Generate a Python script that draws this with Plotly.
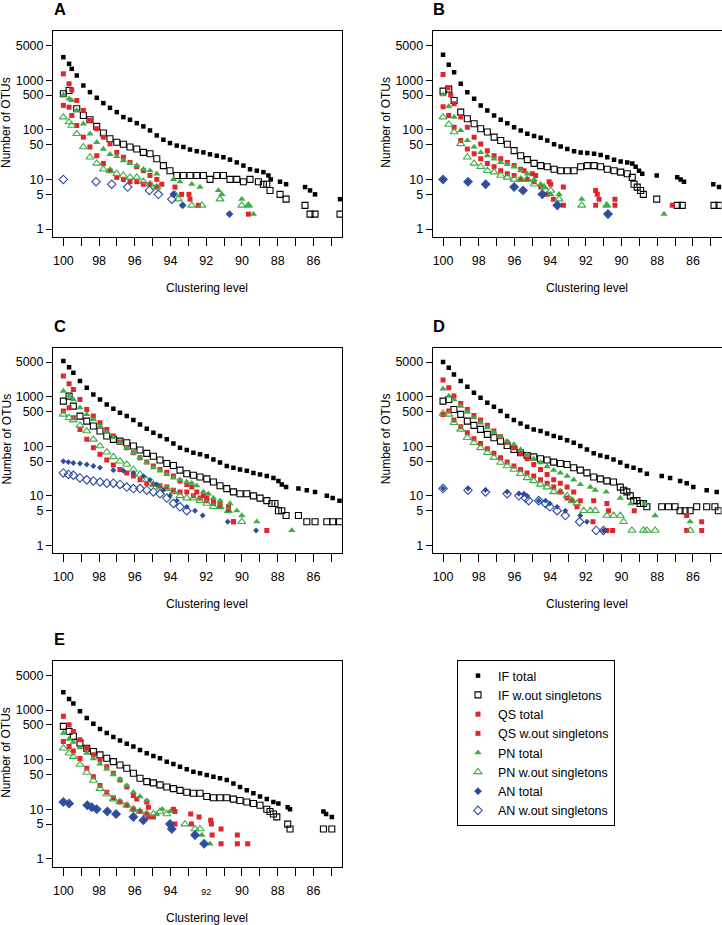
import plotly.graph_objects as go

W, H = 722, 925

series_names = ["IF total", "IF w.out singletons", "QS total", "QS w.out singletons",
                "PN total", "PN w.out singletons", "AN total", "AN w.out singletons"]
panel_labels = ["A", "B", "C", "D", "E"]
y_tick_values = [1, 5, 10, 50, 100, 500, 1000, 5000]
y_tick_labels = ["1", "5", "10", "50", "100", "500", "1000", "5000"]
x_tick_values = list(range(85, 101))
x_tick_labels = ["", "86", "", "88", "", "90", "", "92", "", "94", "", "96", "", "98", "", "100"]
x_tick_labels_E = ["", "86", "", "88", "", "90", "", "<span style='font-size:9px'>92</span>", "", "94", "", "96", "", "98", "", "100"]

# ---------------- Panel A ----------------
A_IF_tot_x = [100, 99.68, 99.53, 99.25, 98.88, 98.51, 98.13, 97.76, 97.39, 97.01, 96.64, 96.27, 95.89, 95.52, 95.15, 94.77, 94.40, 94.03, 93.65, 93.28, 92.91, 92.53, 92.16, 91.79, 91.41, 91.04, 90.67, 90.29, 89.92, 89.55, 89.17, 88.80, 88.52, 88.39, 87.87, 87.53, 86.47, 86.19, 85.91, 84.51]
A_IF_tot_y = [2900, 2130, 1690, 1240, 780, 573, 441, 344, 277, 227, 180, 159, 136, 117, 97, 77, 63, 54, 48, 45, 40, 37, 35, 32, 30, 28, 25, 22, 19, 16, 15, 14, 12, 10, 9, 8, 7, 6, 5, 4]
A_IF_wo_x = [100, 99.68, 99.25, 98.88, 98.51, 98.13, 97.76, 97.39, 97.01, 96.64, 96.27, 95.89, 95.52, 95.15, 94.77, 94.40, 94.03, 93.65, 93.28, 92.91, 92.53, 92.16, 91.79, 91.41, 91.04, 90.67, 90.29, 89.92, 89.55, 89.08, 88.80, 88.61, 88.43, 87.87, 87.53, 86.47, 86.19, 85.91, 84.51]
A_IF_wo_y = [531, 620, 265, 194, 159, 117, 86, 66, 56, 51, 45, 41, 35, 33, 26, 19, 15, 12, 12, 12, 12, 12, 10, 12, 12, 10, 10, 9, 10, 9, 8, 8, 6, 5, 4, 3, 2, 2, 2]
A_QS_tot_x = [100, 99.68, 99.53, 99.25, 98.88, 98.51, 98.13, 97.76, 97.39, 97.01, 96.64, 96.27, 95.89, 95.52, 95.15, 94.77, 94.49, 93.75, 93.38, 92.97, 92.91, 92.44, 89.64]
A_QS_tot_y = [1340, 845, 640, 390, 245, 154, 105, 71, 52, 35, 28, 22, 18, 15, 12, 10, 8, 7, 5, 5, 4, 3, 2]
A_QS_wo_x = [100, 99.68, 99.53, 99.25, 98.88, 98.51, 98.13, 97.76, 97.39, 97.01, 96.64, 96.27, 95.89, 95.52, 95.15, 94.77]
A_QS_wo_y = [310, 285, 194, 122, 71, 45, 30, 21, 15, 11, 10, 9, 9, 8, 8, 7]
A_PN_tot_x = [100, 99.68, 99.53, 99.25, 98.88, 98.51, 98.13, 97.76, 97.39, 97.01, 96.64, 96.27, 95.89, 95.52, 95.15, 94.77, 93.84, 93.47, 92.81, 92.35, 91.32, 91.13, 90.01, 89.64, 89.36]
A_PN_tot_y = [507, 421, 390, 245, 132, 83, 56, 41, 32, 29, 24, 21, 19, 16, 15, 13, 10, 9, 8, 7, 6, 5, 4, 3, 2]
A_PN_wo_x = [100, 99.68, 99.53, 99.25, 98.88, 98.51, 98.13, 97.76, 97.39, 97.01, 96.64, 96.27, 95.89, 95.52, 95.15, 94.77, 93.75, 93.56, 92.81, 92.25, 91.23, 90.01, 89.64]
A_PN_wo_y = [180, 143, 122, 83, 45, 28, 21, 16, 15, 13, 12, 11, 11, 9, 8, 7, 5, 4, 3, 3, 4, 3, 3]
A_AN_tot_x = [93.84, 93.32, 90.70]
A_AN_tot_y = [5, 3, 2]
A_AN_wo_x = [100, 98.17, 97.29, 96.40, 95.18, 94.68, 93.93]
A_AN_wo_y = [10, 9, 8, 7, 6, 5, 4]

# ---------------- Panel B ----------------
B_IF_tot_x = [100, 99.68, 99.38, 99.01, 98.64, 98.26, 97.89, 97.52, 97.14, 96.77, 96.40, 96.02, 95.65, 95.28, 94.90, 94.53, 94.16, 93.78, 93.41, 93.04, 92.66, 92.29, 91.92, 91.54, 91.17, 90.80, 90.42, 90.05, 89.68, 89.40, 89.21, 89.02, 88.84, 88.03, 86.88, 86.69, 86.50, 84.86, 84.54]
B_IF_tot_y = [3240, 2040, 1450, 845, 573, 421, 310, 245, 194, 159, 136, 113, 97, 83, 75, 69, 61, 51, 46, 41, 37, 35, 34, 33, 31, 28, 25, 23, 22, 21, 18, 15, 13, 12, 11, 10, 9, 8, 7]
B_IF_wo_x = [100, 99.68, 99.38, 99.01, 98.64, 98.26, 97.89, 97.52, 97.14, 96.77, 96.40, 96.02, 95.65, 95.28, 94.90, 94.53, 94.16, 93.78, 93.41, 93.04, 92.66, 92.29, 91.92, 91.54, 91.17, 90.80, 90.42, 90.05, 89.68, 89.40, 89.30, 89.12, 88.93, 88.78, 88.03, 86.88, 86.60, 84.82, 84.54]
B_IF_wo_y = [600, 660, 390, 227, 167, 132, 105, 90, 71, 61, 51, 38, 30, 25, 21, 19, 18, 16, 15, 15, 15, 18, 19, 19, 18, 16, 15, 14, 13, 11, 8, 7, 6, 5, 4, 3, 3, 3, 3]
B_QS_tot_x = [100, 99.72, 99.57, 99.38, 99.01, 98.64, 98.26, 97.89, 97.52, 97.14, 96.77, 96.40, 96.02, 95.65, 95.46, 95.00, 94.81, 94.06, 93.97, 93.26, 91.45, 91.36, 91.26, 90.37, 87.16]
B_QS_tot_y = [1300, 700, 500, 333, 180, 113, 71, 52, 38, 30, 26, 22, 19, 16, 15, 13, 12, 9, 8, 7, 6, 5, 4, 4, 3]
B_QS_wo_x = [100, 99.68, 99.38, 99.01, 98.64, 98.26, 97.89, 97.52, 97.14, 96.77, 96.40, 96.02, 95.65, 95.28, 94.90, 94.53, 94.16, 93.82, 93.26, 91.45, 90.37]
B_QS_wo_y = [290, 194, 113, 61, 41, 33, 26, 21, 18, 15, 13, 12, 10, 10, 9, 7, 5, 4, 3, 3, 3]
B_PN_tot_x = [100, 99.68, 99.38, 99.01, 98.64, 98.26, 97.89, 97.52, 97.14, 96.77, 96.40, 96.02, 95.65, 95.28, 94.90, 94.53, 94.34, 93.97, 93.50, 92.23, 90.83, 87.62]
B_PN_tot_y = [510, 295, 180, 97, 61, 45, 35, 30, 26, 22, 20, 18, 15, 13, 10, 8, 7, 5, 5, 4, 3, 2]
B_PN_wo_x = [100, 99.68, 99.38, 99.01, 98.64, 98.26, 97.89, 97.52, 97.14, 96.77, 96.40, 96.02, 95.65, 95.28, 94.90, 94.34, 93.97, 93.50, 92.23, 90.83]
B_PN_wo_y = [180, 128, 90, 52, 28, 21, 18, 15, 14, 12, 11, 10, 10, 10, 8, 7, 6, 4, 3, 3]
B_AN_tot_x = [100, 98.60, 97.61, 96.02, 95.52, 94.44, 93.60, 90.76]
B_AN_tot_y = [10, 9, 8, 7, 6, 5, 3, 2]
B_AN_wo_x = [100, 98.60, 97.61, 96.02, 95.52, 94.44, 93.60, 90.76]
B_AN_wo_y = [10, 9, 8, 7, 6, 5, 3, 2]

# ---------------- Panel C ----------------
C_IF_tot_x = [100, 99.68, 99.44, 99.07, 98.69, 98.32, 97.95, 97.57, 97.20, 96.83, 96.45, 96.08, 95.71, 95.33, 94.96, 94.59, 94.21, 93.84, 93.47, 93.09, 92.72, 92.35, 91.97, 91.60, 91.23, 90.85, 90.48, 90.11, 89.73, 89.36, 88.99, 88.61, 88.24, 87.96, 87.77, 87.53, 86.84, 86.37, 85.91, 85.25, 84.92, 84.54]
C_IF_tot_y = [5240, 3960, 3050, 2070, 1520, 1110, 880, 700, 572, 475, 407, 338, 276, 226, 188, 161, 138, 114, 93, 84, 74, 69, 63, 54, 47, 40, 37, 34, 32, 29, 27, 25, 23, 20, 17, 15, 14, 13, 12, 10, 9, 8]
C_IF_wo_x = [100, 99.68, 99.44, 99.07, 98.69, 98.32, 97.95, 97.57, 97.20, 96.83, 96.45, 96.08, 95.71, 95.33, 94.96, 94.59, 94.21, 93.84, 93.47, 93.09, 92.72, 92.35, 91.97, 91.60, 91.23, 90.85, 90.48, 90.11, 89.73, 89.36, 88.99, 88.61, 88.33, 88.15, 87.96, 87.77, 87.53, 86.84, 86.37, 85.91, 85.25, 84.92, 84.54]
C_IF_wo_y = [816, 1030, 647, 407, 322, 256, 203, 161, 138, 127, 118, 101, 84, 72, 63, 53, 45, 41, 33, 28, 26, 24, 22, 19, 16, 14, 12, 11, 11, 10, 9, 8, 7, 7, 5, 5, 4, 4, 3, 3, 3, 3, 3]
C_QS_tot_x = [100, 99.68, 99.44, 99.07, 98.69, 98.32, 97.95, 97.57, 97.20, 96.83, 96.45, 96.08, 95.71, 95.33, 94.96, 94.59, 94.21, 93.84, 93.47, 93.09, 92.81, 92.53, 92.16, 91.97, 91.60, 91.23, 90.76, 90.48, 88.61]
C_QS_tot_y = [2610, 1830, 1400, 880, 554, 407, 298, 219, 161, 122, 93, 74, 59, 48, 40, 34, 30, 25, 20, 17, 15, 12, 10, 9, 8, 7, 6, 3, 2]
C_QS_wo_x = [100, 99.68, 99.44, 99.07, 98.69, 98.32, 97.95, 97.57, 97.20, 96.83, 96.45, 96.08, 95.71, 95.33, 94.96, 94.59, 94.21, 93.84, 93.47, 93.09, 92.72, 92.35, 91.97, 91.60, 91.23, 90.76, 90.48]
C_QS_wo_y = [513, 600, 377, 219, 138, 93, 69, 53, 42, 34, 29, 25, 21, 18, 17, 16, 15, 13, 12, 12, 10, 9, 8, 7, 6, 5, 3]
C_PN_tot_x = [100, 99.68, 99.44, 99.07, 98.69, 98.32, 97.95, 97.57, 97.20, 96.83, 96.45, 96.08, 95.71, 95.33, 94.96, 94.59, 94.21, 93.84, 93.47, 93.09, 92.81, 92.53, 92.16, 91.88, 91.60, 91.23, 90.67, 90.29, 90.01, 89.17, 87.21]
C_PN_tot_y = [1300, 1030, 880, 600, 440, 348, 256, 193, 149, 118, 93, 74, 59, 47, 37, 32, 27, 23, 21, 19, 18, 16, 12, 11, 9, 8, 7, 5, 4, 3, 2]
C_PN_wo_x = [100, 99.68, 99.44, 99.07, 98.69, 98.32, 97.95, 97.57, 97.20, 96.83, 96.45, 96.08, 95.71, 95.33, 94.96, 94.59, 94.21, 93.84, 93.47, 93.09, 92.72, 92.35, 91.97, 91.60, 91.23, 90.76, 90.01]
C_PN_wo_y = [440, 377, 338, 264, 203, 138, 101, 76, 61, 50, 43, 34, 27, 21, 17, 15, 14, 12, 10, 9, 9, 8, 7, 6, 6, 5, 3]
C_AN_tot_x = [100, 99.72, 99.44, 99.07, 98.69, 98.32, 97.95, 97.20, 96.64, 96.08, 95.52, 95.15, 94.77, 94.40, 94.03, 93.65, 93.09, 92.63, 92.20, 90.80, 89.21]
C_AN_tot_y = [50, 48, 46, 45, 43, 40, 37, 33, 32, 29, 25, 21, 17, 13, 10, 8, 6, 5, 4, 3, 2]
C_AN_wo_x = [100, 99.72, 99.44, 99.07, 98.69, 98.32, 97.95, 97.57, 97.20, 96.83, 96.45, 96.08, 95.71, 95.33, 94.96, 94.59, 94.21, 93.84, 93.47, 93.09]
C_AN_wo_y = [29, 27, 26, 23, 21, 20, 19, 18, 18, 17, 15, 14, 14, 13, 12, 11, 9, 7, 6, 5]

# ---------------- Panel D ----------------
D_IF_tot_x = [100, 99.68, 99.39, 99.01, 98.64, 98.27, 97.90, 97.52, 97.15, 96.78, 96.41, 96.03, 95.66, 95.29, 94.92, 94.54, 94.17, 93.80, 93.43, 93.05, 92.68, 92.31, 91.94, 91.56, 91.19, 90.82, 90.45, 90.07, 89.70, 89.33, 88.96, 88.58, 87.75, 87.28, 86.72, 86.35, 85.98, 85.23, 84.67]
D_IF_tot_y = [5000, 3840, 2820, 2070, 1590, 1200, 953, 756, 628, 513, 407, 338, 289, 248, 219, 203, 182, 161, 149, 133, 118, 101, 86, 72, 65, 61, 54, 47, 40, 37, 33, 28, 25, 23, 20, 18, 15, 13, 12]
D_IF_wo_x = [100, 99.68, 99.39, 99.01, 98.64, 98.27, 97.90, 97.52, 97.15, 96.78, 96.41, 96.03, 95.66, 95.29, 94.92, 94.54, 94.17, 93.80, 93.43, 93.05, 92.68, 92.31, 91.94, 91.56, 91.19, 90.82, 90.45, 90.07, 89.88, 89.70, 89.51, 89.33, 89.14, 88.96, 88.77, 88.58, 87.75, 87.37, 87.00, 86.72, 86.44, 86.16, 85.79, 85.23, 84.77, 84.58]
D_IF_wo_y = [816, 880, 554, 440, 322, 264, 219, 174, 149, 127, 104, 86, 74, 65, 61, 56, 53, 48, 45, 43, 37, 33, 29, 24, 22, 20, 19, 15, 13, 12, 10, 8, 8, 7, 7, 6, 6, 6, 6, 5, 5, 5, 6, 6, 6, 5]
D_QS_tot_x = [100, 99.68, 99.39, 99.01, 98.64, 98.27, 97.90, 97.52, 97.15, 96.78, 96.41, 96.03, 95.66, 95.29, 94.92, 94.54, 94.17, 93.80, 93.43, 93.05, 92.68, 92.31, 91.56, 90.82, 90.73, 91.60, 89.29, 86.35, 85.51]
D_QS_tot_y = [2170, 1520, 1030, 730, 554, 420, 338, 265, 203, 156, 121, 93, 72, 56, 43, 34, 27, 21, 18, 15, 12, 8, 8, 7, 5, 3, 5, 4, 3]
D_QS_wo_x = [100, 99.68, 99.39, 99.01, 98.64, 98.27, 97.90, 97.52, 97.15, 96.78, 96.41, 96.03, 95.66, 95.29, 94.92, 94.54, 94.17, 93.80, 93.43, 93.05, 92.77, 92.50, 90.82, 90.50, 86.35, 85.51]
D_QS_wo_y = [440, 513, 338, 248, 188, 142, 114, 89, 72, 59, 48, 40, 34, 29, 25, 21, 18, 15, 12, 9, 8, 6, 2, 2, 2, 2]
D_PN_tot_x = [100, 99.68, 99.39, 99.01, 98.64, 98.27, 97.90, 97.52, 97.15, 96.78, 96.41, 96.03, 95.66, 95.29, 94.92, 94.54, 94.17, 93.80, 93.43, 93.05, 92.68, 92.31, 91.75, 91.47, 90.86, 90.07, 89.48, 88.68, 88.12, 86.16]
D_PN_tot_y = [1450, 1030, 880, 647, 490, 377, 298, 237, 193, 156, 127, 109, 86, 69, 56, 47, 39, 33, 29, 25, 21, 17, 15, 13, 12, 9, 7, 7, 4, 3]
D_PN_wo_x = [100, 99.68, 99.39, 99.01, 98.64, 98.27, 97.90, 97.52, 97.15, 96.78, 96.41, 96.03, 95.66, 95.29, 94.92, 94.54, 94.17, 93.80, 93.43, 93.05, 92.77, 92.50, 92.12, 91.75, 91.47, 90.82, 90.45, 90.07, 89.89, 89.42, 88.77, 88.58, 88.12, 86.16]
D_PN_wo_y = [459, 440, 298, 219, 149, 118, 93, 74, 59, 47, 40, 34, 28, 23, 20, 17, 15, 12, 12, 10, 8, 7, 5, 5, 5, 4, 4, 4, 3, 2, 2, 2, 2, 2]
D_AN_tot_x = [100, 98.60, 97.62, 96.41, 95.75, 95.47, 95.29, 94.64, 94.26, 94.02, 93.61, 93.15, 92.31, 91.94, 91.01]
D_AN_tot_y = [14, 14, 13, 12, 11, 11, 10, 8, 8, 7, 6, 5, 4, 3, 2]
D_AN_wo_x = [100, 98.60, 97.62, 96.41, 95.75, 95.38, 95.20, 94.64, 94.26, 94.02, 93.61, 93.15, 92.35, 91.42, 91.01]
D_AN_wo_y = [14, 13, 12, 11, 10, 9, 8, 8, 7, 6, 5, 4, 3, 2, 2]

# ---------------- Panel E ----------------
E_IF_tot_x = [100, 99.68, 99.44, 99.07, 98.69, 98.32, 97.95, 97.57, 97.20, 96.83, 96.45, 96.08, 95.71, 95.33, 94.96, 94.59, 94.21, 93.84, 93.47, 93.09, 92.72, 92.35, 91.97, 91.60, 91.23, 90.85, 90.48, 90.11, 89.73, 89.36, 88.99, 88.61, 88.24, 87.96, 87.44, 87.31, 85.44, 85.29, 84.97]
E_IF_tot_y = [2290, 1680, 1350, 944, 692, 531, 414, 343, 285, 244, 208, 184, 157, 135, 119, 107, 91, 82, 72, 64, 57, 53, 49, 45, 42, 39, 33, 28, 24, 21, 18, 16, 14, 13, 11, 10, 9, 8, 7]
E_IF_wo_x = [100, 99.68, 99.44, 99.07, 98.69, 98.32, 97.95, 97.57, 97.20, 96.83, 96.45, 96.08, 95.71, 95.33, 94.96, 94.59, 94.21, 93.84, 93.47, 93.09, 92.72, 92.35, 91.97, 91.60, 91.23, 90.85, 90.48, 90.11, 89.73, 89.36, 88.99, 88.61, 88.43, 88.24, 88.05, 87.44, 87.31, 85.44, 84.97]
E_IF_wo_y = [469, 371, 294, 215, 170, 146, 125, 107, 91, 78, 67, 53, 42, 36, 34, 31, 28, 26, 24, 22, 21, 21, 18, 17, 17, 17, 16, 15, 14, 13, 12, 10, 9, 8, 7, 5, 4, 4, 4]
E_QS_tot_x = [100, 99.68, 99.44, 99.07, 98.69, 98.32, 97.95, 97.57, 97.20, 96.83, 96.45, 96.08, 95.89, 95.33, 95.24, 95.24, 93.84, 93.75, 93.75, 92.87, 92.83, 92.40, 91.75, 91.71, 91.67, 91.17, 91.17, 90.26, 90.26, 89.68]
E_QS_tot_y = [748, 507, 371, 251, 170, 125, 99, 72, 53, 39, 28, 19, 16, 14, 11, 7, 10, 9, 5, 8, 5, 7, 6, 5, 3, 4, 2, 3, 2, 2]
E_QS_wo_x = [100, 99.68, 99.44, 99.07, 98.69, 98.32, 97.95, 97.57, 97.20, 96.83, 96.45, 96.08, 95.71, 95.33, 94.96]
E_QS_wo_y = [232, 184, 150, 105, 67, 45, 30, 22, 17, 14, 12, 10, 9, 8, 7]
E_PN_tot_x = [100, 99.68, 99.44, 99.07, 98.69, 98.32, 97.95, 97.57, 97.20, 96.83, 96.45, 96.08, 95.71, 95.33, 94.77, 94.46, 94.03, 92.25, 91.79]
E_PN_tot_y = [343, 260, 225, 175, 135, 105, 82, 64, 50, 40, 30, 22, 18, 15, 8, 10, 9, 3, 2]
E_PN_wo_x = [100, 99.68, 99.44, 99.07, 98.69, 98.32, 97.95, 97.57, 97.20, 96.83, 96.45, 96.08, 95.71, 95.33, 94.96, 94.59, 94.21, 93.19, 92.63, 92.35]
E_PN_wo_y = [170, 135, 115, 80, 55, 38, 26, 20, 16, 14, 12, 10, 9, 8, 8, 9, 8, 5, 4, 4]
E_AN_tot_x = [100, 99.68, 98.66, 98.41, 98.13, 97.54, 97.05, 96.08, 95.52, 94.03, 93.93, 92.63, 92.12]
E_AN_tot_y = [14, 13, 12, 11, 10, 9, 8, 7, 6, 5, 4, 3, 2]
E_AN_wo_x = [100, 99.68, 98.66, 98.41, 98.13, 97.54, 97.05, 96.08, 95.52, 94.03, 93.93, 92.63, 92.12]
E_AN_wo_y = [14, 13, 12, 11, 10, 9, 8, 7, 6, 5, 4, 3, 2]

panel_series = {
    "A": [(A_IF_tot_x, A_IF_tot_y), (A_IF_wo_x, A_IF_wo_y), (A_QS_tot_x, A_QS_tot_y), (A_QS_wo_x, A_QS_wo_y),
          (A_PN_tot_x, A_PN_tot_y), (A_PN_wo_x, A_PN_wo_y), (A_AN_tot_x, A_AN_tot_y), (A_AN_wo_x, A_AN_wo_y)],
    "B": [(B_IF_tot_x, B_IF_tot_y), (B_IF_wo_x, B_IF_wo_y), (B_QS_tot_x, B_QS_tot_y), (B_QS_wo_x, B_QS_wo_y),
          (B_PN_tot_x, B_PN_tot_y), (B_PN_wo_x, B_PN_wo_y), (B_AN_tot_x, B_AN_tot_y), (B_AN_wo_x, B_AN_wo_y)],
    "C": [(C_IF_tot_x, C_IF_tot_y), (C_IF_wo_x, C_IF_wo_y), (C_QS_tot_x, C_QS_tot_y), (C_QS_wo_x, C_QS_wo_y),
          (C_PN_tot_x, C_PN_tot_y), (C_PN_wo_x, C_PN_wo_y), (C_AN_tot_x, C_AN_tot_y), (C_AN_wo_x, C_AN_wo_y)],
    "D": [(D_IF_tot_x, D_IF_tot_y), (D_IF_wo_x, D_IF_wo_y), (D_QS_tot_x, D_QS_tot_y), (D_QS_wo_x, D_QS_wo_y),
          (D_PN_tot_x, D_PN_tot_y), (D_PN_wo_x, D_PN_wo_y), (D_AN_tot_x, D_AN_tot_y), (D_AN_wo_x, D_AN_wo_y)],
    "E": [(E_IF_tot_x, E_IF_tot_y), (E_IF_wo_x, E_IF_wo_y), (E_QS_tot_x, E_QS_tot_y), (E_QS_wo_x, E_QS_wo_y),
          (E_PN_tot_x, E_PN_tot_y), (E_PN_wo_x, E_PN_wo_y), (E_AN_tot_x, E_AN_tot_y), (E_AN_wo_x, E_AN_wo_y)],
}

RED = "#e4232a"
GREEN = "#3cae48"
BLUE = "#2d4c9f"
FONT = "Liberation Sans, Arial, sans-serif"


def marker_style(i, panel):
    if i == 0:
        return dict(symbol="square", size=4.5, color="black")
    if i == 1:
        return dict(symbol="square-open", size=6, color="black", line=dict(width=1.1, color="black"))
    if i in (2, 3):
        return dict(symbol="square", size=5, color=RED)
    if i == 4:
        return dict(symbol="triangle-up", size=6.5, color=GREEN)
    if i == 5:
        return dict(symbol="triangle-up-open", size=7, color=GREEN, line=dict(width=1.1, color=GREEN))
    if i == 6:
        return dict(symbol="diamond", size=(4.5 if panel in ("C", "D") else 6), color=BLUE)
    return dict(symbol="diamond-open", size=6.5, color=BLUE, line=dict(width=1.1, color=BLUE))


# pixel geometry of plot boxes
col_x = [(53, 342), (432.7, 721.5)]
row_y = [(31, 237), (347.7, 553.3), (661, 866.7)]
panel_pos = {"A": (0, 0), "B": (1, 0), "C": (0, 1), "D": (1, 1), "E": (0, 2)}

fig = go.Figure()
layout = dict(
    template="none",
    width=W, height=H, margin=dict(l=0, r=0, t=0, b=0, pad=0, autoexpand=False),
    paper_bgcolor="white", plot_bgcolor="white",
    font=dict(family=FONT, size=12.5, color="black"),
)
annotations = []

for k, p in enumerate(panel_labels):
    idx = "" if k == 0 else str(k + 1)
    c, r = panel_pos[p]
    x0, x1 = col_x[c]
    y0, y1 = row_y[r]
    for i, (xs, ys) in enumerate(panel_series[p]):
        fig.add_trace(go.Scatter(
            x=xs, y=ys, mode="markers", name=series_names[i],
            marker=marker_style(i, p), legendgroup=series_names[i],
            showlegend=(p == "A"), xaxis="x" + idx, yaxis="y" + idx,
            hoverinfo="x+y+name",
        ))
    layout["xaxis" + idx] = dict(
        domain=[x0 / W, x1 / W], anchor="y" + idx, automargin=False,
        range=[100.58, 84.40], tickmode="array", tickvals=x_tick_values,
        ticktext=(x_tick_labels_E if p == "E" else x_tick_labels),
        ticks="outside", ticklen=8, tickwidth=1, tickcolor="black",
        showline=True, mirror=True, linecolor="black", linewidth=1,
        showgrid=False, zeroline=False, tickfont=dict(size=12.5),
        ticklabelstandoff=4,
    )
    layout["yaxis" + idx] = dict(
        domain=[1 - y1 / H, 1 - y0 / H], anchor="x" + idx, type="log", automargin=False,
        range=[-0.16, 3.99], tickmode="array", tickvals=y_tick_values, ticktext=y_tick_labels,
        ticks="outside", ticklen=6, tickwidth=1, tickcolor="black",
        showline=True, mirror=True, linecolor="black", linewidth=1,
        showgrid=False, zeroline=False, tickfont=dict(size=12.5),
    )
    # panel letter
    annotations.append(dict(text="<b>" + p + "</b>", x=(x0 + 6.5) / W, y=1 - (y0 - 22) / H,
                            xref="paper", yref="paper", showarrow=False,
                            font=dict(size=16.5, family=FONT), xanchor="center", yanchor="middle"))
    # y title
    annotations.append(dict(text="Number of OTUs", x=(x0 - 46.5) / W, y=1 - ((y0 + y1) / 2 - 11.5) / H,
                            xref="paper", yref="paper", showarrow=False, textangle=-90,
                            font=dict(size=12), xanchor="center", yanchor="middle"))
    # x title
    annotations.append(dict(text="Clustering level", x=((x0 + x1) / 2 + 10) / W, y=1 - (y1 + 51) / H,
                            xref="paper", yref="paper", showarrow=False,
                            font=dict(size=12), xanchor="center", yanchor="middle"))

layout["annotations"] = annotations
layout["legend"] = dict(
    x=457 / W, y=1 - 660 / H, xanchor="left", yanchor="top",
    bordercolor="black", borderwidth=1, bgcolor="white",
    font=dict(size=12.5, family=FONT), itemwidth=30, tracegroupgap=0,
)
fig.update_layout(**layout)
fig.write_html("out.html", config={"displayModeBar": False},
               post_script="document.body.style.margin='0px';document.body.style.padding='0px';")
